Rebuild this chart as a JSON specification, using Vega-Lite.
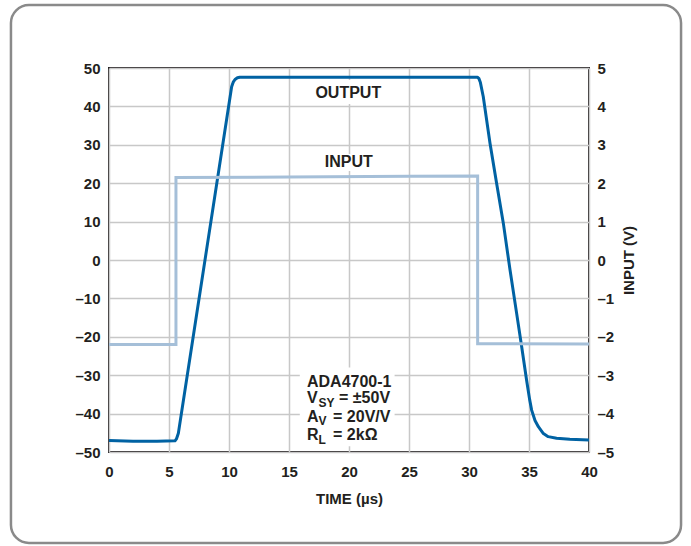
{
  "$schema": "https://vega.github.io/schema/vega-lite/v6.json",
  "width": 480,
  "height": 384,
  "autosize": {"type": "none"},
  "padding": {"left": 109, "top": 68, "right": 102, "bottom": 94},
  "background": "white",
  "config": {
    "font": "Liberation Sans",
    "view": {"stroke": "#231f20", "strokeWidth": 2},
    "axis": {
      "labelFont": "Liberation Sans",
      "labelFontWeight": "bold",
      "labelFontSize": 15,
      "labelColor": "#231f20",
      "labelOverlap": false,
      "labelFlush": false,
      "titleFont": "Liberation Sans",
      "titleFontWeight": "bold",
      "titleFontSize": 15,
      "titleColor": "#231f20",
      "ticks": false,
      "domain": false,
      "gridColor": "#c8c8c8",
      "gridWidth": 1.5,
      "gridOpacity": 1
    }
  },
  "datasets": {
    "output": [
      {"t": 0, "v": -47.0}, {"t": 2, "v": -47.2}, {"t": 4, "v": -47.2}, {"t": 5.5, "v": -47.1},
      {"t": 5.62, "v": -46.6}, {"t": 5.78, "v": -45.1}, {"t": 10.22, "v": 45.1}, {"t": 10.35, "v": 46.3},
      {"t": 10.5, "v": 47.0}, {"t": 10.7, "v": 47.45}, {"t": 10.9, "v": 47.6}, {"t": 20, "v": 47.6},
      {"t": 30.7, "v": 47.6}, {"t": 30.82, "v": 47.3}, {"t": 30.95, "v": 46.2},
      {"t": 31.19, "v": 42.5}, {"t": 31.75, "v": 30.4}, {"t": 32.3, "v": 20}, {"t": 32.86, "v": 9.6},
      {"t": 33.42, "v": -2.6}, {"t": 33.97, "v": -13.9}, {"t": 34.39, "v": -22.6}, {"t": 34.8, "v": -31.3},
      {"t": 35.05, "v": -36.3}, {"t": 35.22, "v": -39.1}, {"t": 35.5, "v": -41.8}, {"t": 35.78, "v": -43.4},
      {"t": 36.2, "v": -45.2}, {"t": 36.6, "v": -46.0}, {"t": 37.3, "v": -46.4}, {"t": 38.4, "v": -46.7},
      {"t": 40, "v": -46.9}
    ],
    "input": [
      {"i": 0, "t": 0, "v": -2.2}, {"i": 1, "t": 5.58, "v": -2.2}, {"i": 2, "t": 5.58, "v": 2.15},
      {"i": 3, "t": 15, "v": 2.16}, {"i": 4, "t": 25, "v": 2.18}, {"i": 5, "t": 30.72, "v": 2.19},
      {"i": 6, "t": 30.72, "v": -2.18}, {"i": 7, "t": 40, "v": -2.19}
    ],
    "bgboxes": [
      {"x1": 17.4, "x2": 22.5, "y1": 46.9, "y2": 40.6},
      {"x1": 17.9, "x2": 22.1, "y1": 27.6, "y2": 23.2},
      {"x1": 15.9, "x2": 23.8, "y1": -28.0, "y2": -48.5}
    ],
    "curvelabels": [
      {"x": 19.94, "y": 43.6, "label": "OUTPUT"},
      {"x": 19.98, "y": 25.5, "label": "INPUT"}
    ],
    "annot": [
      {"x": 16.5, "y": -33.0, "label": "ADA4700-1"},
      {"x": 16.5, "y": -37.3, "label": "V"},
      {"x": 19.17, "y": -37.3, "label": "= ±50V"},
      {"x": 16.5, "y": -42.1, "label": "A"},
      {"x": 18.67, "y": -42.1, "label": "= 20V/V"},
      {"x": 16.5, "y": -46.9, "label": "R"},
      {"x": 18.67, "y": -46.9, "label": "= 2kΩ"}
    ],
    "subs": [
      {"x": 17.46, "y": -38.3, "label": "SY"},
      {"x": 17.46, "y": -43.0, "label": "V"},
      {"x": 17.46, "y": -47.9, "label": "L"}
    ],
    "frame": [{"x1": -8.17, "x2": 47.67, "y1": 66.4, "y2": -73.7}]
  },
  "layer": [
    {
      "data": {"name": "frame"},
      "mark": {"type": "rect", "fill": null, "fillOpacity": 0, "stroke": "#8a8a8a", "strokeWidth": 2.5, "cornerRadius": 18, "clip": false},
      "encoding": {
        "x": {"field": "x1", "type": "quantitative", "scale": {"domain": [0, 40], "nice": false}},
        "x2": {"field": "x2"},
        "y": {"field": "y1", "type": "quantitative", "scale": {"domain": [-50, 50], "nice": false}, "axis": null},
        "y2": {"field": "y2"}
      }
    },
    {
      "data": {"name": "bgboxes"},
      "mark": {"type": "rect", "fill": "white"},
      "encoding": {
        "x": {"field": "x1", "type": "quantitative"},
        "x2": {"field": "x2"},
        "y": {"field": "y1", "type": "quantitative", "scale": {"domain": [-50, 50], "nice": false}, "axis": null},
        "y2": {"field": "y2"}
      }
    },
    {
      "data": {"name": "output"},
      "mark": {"type": "line", "color": "#0062a3", "strokeWidth": 3, "strokeJoin": "round"},
      "encoding": {
        "x": {
          "field": "t", "type": "quantitative",
          "scale": {"domain": [0, 40], "nice": false},
          "axis": {"values": [0, 5, 10, 15, 20, 25, 30, 35, 40], "title": "TIME (µs)", "labelPadding": 12, "titlePadding": 12, "grid": true, "labelOverlap": false}
        },
        "y": {
          "field": "v", "type": "quantitative",
          "scale": {"domain": [-50, 50], "nice": false},
          "axis": {
            "orient": "left", "title": null, "grid": false, "labelPadding": 9,
            "labelOverlap": false,
            "values": [-50, -40, -30, -20, -10, 0, 10, 20, 30, 40, 50],
            "labelExpr": "datum.value < 0 ? '\u2013' + abs(datum.value) : datum.label"
          }
        }
      }
    },
    {
      "data": {"name": "curvelabels"},
      "mark": {"type": "text", "font": "Liberation Sans", "fontWeight": "bold", "fontSize": 16, "color": "#231f20", "align": "center", "baseline": "middle"},
      "encoding": {
        "x": {"field": "x", "type": "quantitative"},
        "y": {"field": "y", "type": "quantitative", "scale": {"domain": [-50, 50], "nice": false}, "axis": null},
        "text": {"field": "label"}
      }
    },
    {
      "data": {"name": "annot"},
      "mark": {"type": "text", "font": "Liberation Sans", "fontWeight": "bold", "fontSize": 16, "color": "#231f20", "align": "left", "baseline": "alphabetic"},
      "encoding": {
        "x": {"field": "x", "type": "quantitative"},
        "y": {"field": "y", "type": "quantitative", "scale": {"domain": [-50, 50], "nice": false}, "axis": null},
        "text": {"field": "label"}
      }
    },
    {
      "data": {"name": "subs"},
      "mark": {"type": "text", "font": "Liberation Sans", "fontWeight": "bold", "fontSize": 12, "color": "#231f20", "align": "left", "baseline": "alphabetic"},
      "encoding": {
        "x": {"field": "x", "type": "quantitative"},
        "y": {"field": "y", "type": "quantitative", "scale": {"domain": [-50, 50], "nice": false}, "axis": null},
        "text": {"field": "label"}
      }
    },
    {
      "data": {"name": "input"},
      "mark": {"type": "line", "color": "#a5bfd8", "strokeWidth": 3},
      "encoding": {
        "x": {"field": "t", "type": "quantitative"},
        "y": {
          "field": "v", "type": "quantitative",
          "scale": {"domain": [-5, 5], "nice": false},
          "axis": {
            "orient": "right", "title": "INPUT (V)", "titleAngle": -90, "titleBaseline": "top", "grid": true,
            "labelPadding": 8, "titlePadding": 8, "labelOverlap": false,
            "values": [-5, -4, -3, -2, -1, 0, 1, 2, 3, 4, 5],
            "labelExpr": "datum.value < 0 ? '\u2013' + abs(datum.value) : datum.label"
          }
        },
        "order": {"field": "i", "type": "quantitative"}
      }
    }
  ],
  "resolve": {"scale": {"y": "independent"}}
}
